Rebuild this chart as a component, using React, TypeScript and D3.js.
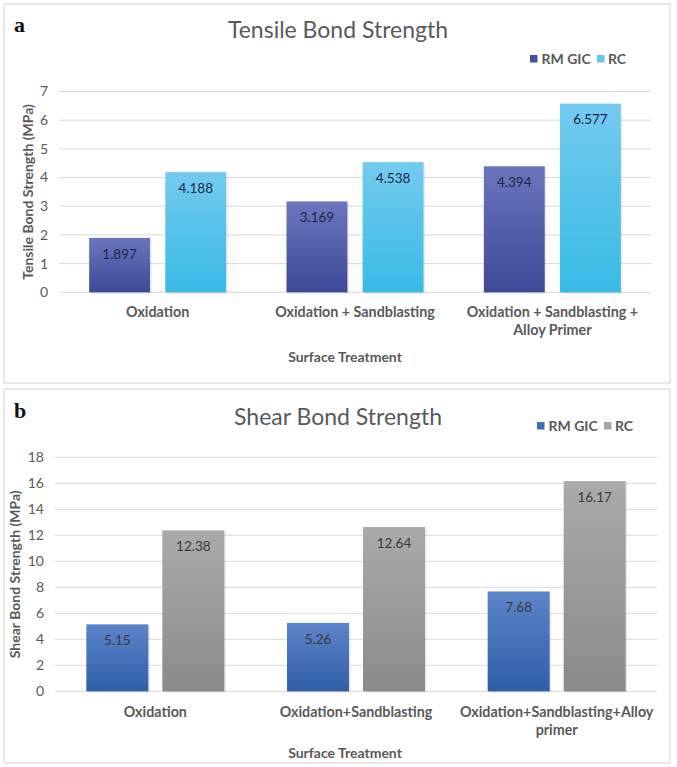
import React from "react";
import * as d3 from "d3";

const seriesNames = ["RM GIC", "RC"];

const categoriesTensile = [
  ["Oxidation"],
  ["Oxidation + Sandblasting"],
  ["Oxidation + Sandblasting +", "Alloy Primer"],
];
const rmgicTensile = [1.897, 3.169, 4.394];
const rcTensile = [4.188, 4.538, 6.577];
const labelsRmgicTensile = ["1.897", "3.169", "4.394"];
const labelsRcTensile = ["4.188", "4.538", "6.577"];
const ticksTensile = [0, 1, 2, 3, 4, 5, 6, 7];

const categoriesShear = [
  ["Oxidation"],
  ["Oxidation+Sandblasting"],
  ["Oxidation+Sandblasting+Alloy", "primer"],
];
const rmgicShear = [5.15, 5.26, 7.68];
const rcShear = [12.38, 12.64, 16.17];
const labelsRmgicShear = ["5.15", "5.26", "7.68"];
const labelsRcShear = ["12.38", "12.64", "16.17"];
const ticksShear = [0, 2, 4, 6, 8, 10, 12, 14, 16, 18];

const FONT = "Lato, 'Open Sans', sans-serif";
const GRAY = "#595959";

type PanelProps = {
  id: string;
  letter: string;
  letterY: number;
  box: [number, number, number, number];
  title: string;
  titleY: number;
  legendX: number;
  legendY: number;
  legendColors: string[];
  cats: string[][];
  a: number[];
  b: number[];
  la: string[];
  lb: string[];
  ticks: number[];
  yTop: number;
  yBottom: number;
  xLeft: number;
  xRight: number;
  groupW: number;
  pad: number;
  gradA: [string, string];
  gradB: [string, string];
  labelColorA: string;
  labelColorB: string;
  yTitle: string;
  yTitleX: number;
  catY: number;
  xTitleY: number;
  tickX: number;
};

function Panel(p: PanelProps) {
  const catNames = p.cats.map((c) => c.join(" "));
  const x0 = d3.scaleBand<string>().domain(catNames).range([p.xLeft, p.xRight]).padding(0);
  const x1 = d3.scaleBand<string>().domain(seriesNames).range([0, p.groupW]).paddingInner(p.pad).paddingOuter(0);
  const yMax = p.ticks[p.ticks.length - 1];
  const y = d3.scaleLinear().domain([0, yMax]).range([p.yBottom, p.yTop]);
  const [bx, by, bw, bh] = p.box;
  const series = [
    { name: seriesNames[0], vals: p.a, labels: p.la, grad: `${p.id}-ga`, lc: p.labelColorA },
    { name: seriesNames[1], vals: p.b, labels: p.lb, grad: `${p.id}-gb`, lc: p.labelColorB },
  ];
  return (
    <g>
      <defs>
        <linearGradient id={`${p.id}-ga`} x1="0" y1="0" x2="0" y2="1">
          <stop offset="0%" stopColor={p.gradA[0]} />
          <stop offset="100%" stopColor={p.gradA[1]} />
        </linearGradient>
        <linearGradient id={`${p.id}-gb`} x1="0" y1="0" x2="0" y2="1">
          <stop offset="0%" stopColor={p.gradB[0]} />
          <stop offset="100%" stopColor={p.gradB[1]} />
        </linearGradient>
      </defs>
      <rect x={bx} y={by} width={bw} height={bh} fill="#fff" stroke="#d9d9d9" strokeWidth={1.2} />
      <text x={14} y={p.letterY} fontFamily="'Liberation Serif', 'DejaVu Serif', serif" fontWeight="bold" fontSize={22} fill="#111">
        {p.letter}
      </text>
      <text x={338} y={p.titleY} textAnchor="middle" fontFamily={FONT} fontSize={23} fill={GRAY}>
        {p.title}
      </text>
      {/* legend */}
      <g fontFamily={FONT} fontSize={14} fontWeight="bold" fill={GRAY}>
        <rect x={p.legendX} y={p.legendY - 4} width={7.5} height={7.5} fill={p.legendColors[0]} />
        <text x={p.legendX + 11.5} y={p.legendY} dy="0.35em">{seriesNames[0]}</text>
        <rect x={p.legendX + 67} y={p.legendY - 4} width={7.5} height={7.5} fill={p.legendColors[1]} />
        <text x={p.legendX + 78} y={p.legendY} dy="0.35em">{seriesNames[1]}</text>
      </g>
      {/* grid */}
      {p.ticks.map((t) => (
        <g key={t}>
          <line x1={p.xLeft} x2={p.xRight} y1={y(t)} y2={y(t)} stroke="#d9d9d9" strokeWidth={1} />
          <text x={p.tickX} y={y(t)} dy="0.35em" textAnchor="end" fontFamily={FONT} fontSize={14} fill={GRAY}>
            {t}
          </text>
        </g>
      ))}
      {/* bars */}
      {catNames.map((c, i) => {
        const gx = (x0(c) as number) + x0.bandwidth() / 2 - p.groupW / 2;
        return (
          <g key={c}>
            {series.map((s) => {
              const bxx = gx + (x1(s.name) as number);
              const top = y(s.vals[i]);
              return (
                <g key={s.name}>
                  <rect x={bxx + 1.5} y={top + 1.5} width={x1.bandwidth()} height={y(0) - top} fill="#000" opacity={0.08} />
                  <rect x={bxx} y={top} width={x1.bandwidth()} height={y(0) - top} fill={`url(#${s.grad})`} />
                  <text x={bxx + x1.bandwidth() / 2} y={top + 16} dy="0.35em" textAnchor="middle" fontFamily={FONT} fontSize={13.5} fill={s.lc}>
                    {s.labels[i]}
                  </text>
                </g>
              );
            })}
            {p.cats[i].map((line, j) => (
              <text key={j} x={(x0(c) as number) + x0.bandwidth() / 2} y={p.catY + j * 18} dy="0.35em" textAnchor="middle" fontFamily={FONT} fontSize={14.3} fontWeight="bold" fill={GRAY}>
                {line}
              </text>
            ))}
          </g>
        );
      })}
      <text x={345} y={p.xTitleY} dy="0.35em" textAnchor="middle" fontFamily={FONT} fontSize={14} fontWeight="bold" fill={GRAY}>
        Surface Treatment
      </text>
      <text transform={`translate(${p.yTitleX},${(p.yTop + p.yBottom) / 2}) rotate(-90)`} dy="0.35em" textAnchor="middle" fontFamily={FONT} fontSize={14} fontWeight="bold" fill={GRAY}>
        {p.yTitle}
      </text>
    </g>
  );
}

export default function App() {
  return (
    <svg width={677} height={767} style={{ position: "absolute", left: 0, top: 0, background: "#fff" }}>
      <rect x={0} y={0} width={677} height={767} fill="#fff" />
      <Panel
        id="pa"
        letter="a"
        letterY={32}
        box={[4, 4, 666, 379]}
        title="Tensile Bond Strength"
        titleY={38}
        legendX={530}
        legendY={59}
        legendColors={["#44529e", "#5bc8ec"]}
        cats={categoriesTensile}
        a={rmgicTensile}
        b={rcTensile}
        la={labelsRmgicTensile}
        lb={labelsRcTensile}
        ticks={ticksTensile}
        yTop={91.5}
        yBottom={292.3}
        xLeft={59}
        xRight={651}
        groupW={137}
        pad={0.2}
        gradA={["#6a76bc", "#3c4997"]}
        gradB={["#74caef", "#38bbe5"]}
        labelColorA="#1c2746"
        labelColorB="#1c2746"
        yTitle="Tensile Bond Strength (MPa)"
        yTitleX={28}
        catY={312}
        xTitleY={357}
        tickX={48}
      />
      <Panel
        id="pb"
        letter="b"
        letterY={418}
        box={[4, 389, 666, 374]}
        title="Shear Bond Strength"
        titleY={425}
        legendX={537}
        legendY={426}
        legendColors={["#3f6dbb", "#a5a5a5"]}
        cats={categoriesShear}
        a={rmgicShear}
        b={rcShear}
        la={labelsRmgicShear}
        lb={labelsRcShear}
        ticks={ticksShear}
        yTop={457.3}
        yBottom={691.3}
        xLeft={55}
        xRight={657}
        groupW={138}
        pad={0.184}
        gradA={["#5d84c9", "#2f5ea8"]}
        gradB={["#aaaaaa", "#8a8a8a"]}
        labelColorA="#3a3a3a"
        labelColorB="#3a3a3a"
        yTitle="Shear Bond Strength (MPa)"
        yTitleX={15}
        catY={712}
        xTitleY={753}
        tickX={44}
      />
    </svg>
  );
}
